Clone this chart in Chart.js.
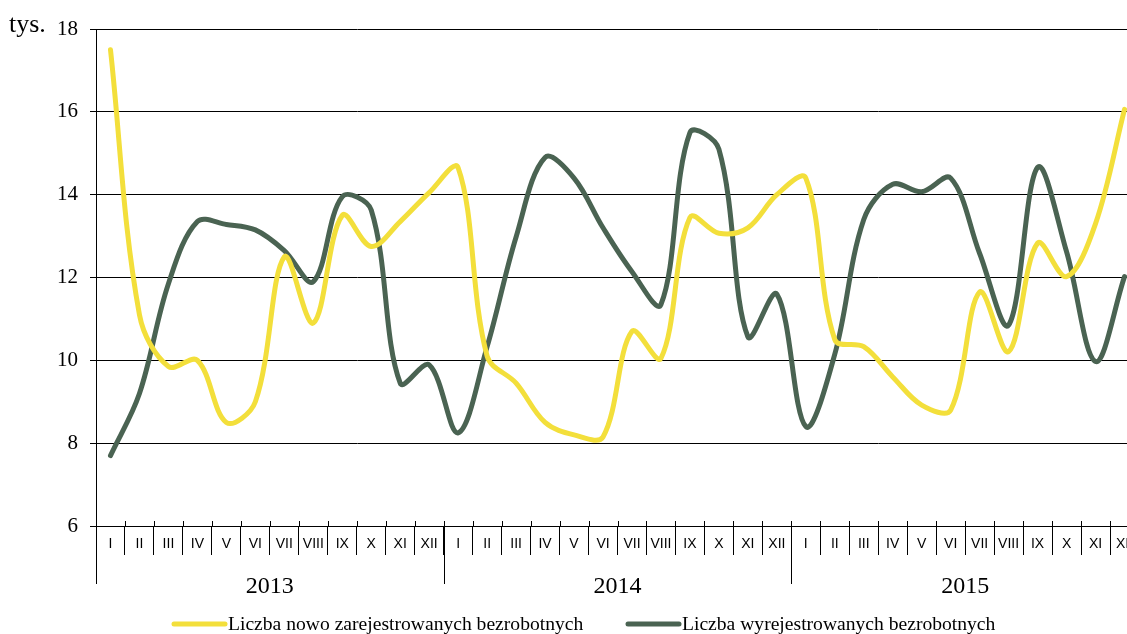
<!DOCTYPE html>
<html>
<head>
<meta charset="utf-8">
<script src="https://cdn.jsdelivr.net/npm/chart.js@4"></script>
<style>
  html, body { margin: 0; padding: 0; background: #fff; overflow: hidden; }
  #wrap { width: 1139px; height: 634px; }
</style>
</head>
<body>
<div id="wrap"><canvas id="chart" width="1139" height="634"></canvas></div>
<script>
// months of 2013-2015
const MONTHS = ['I', 'II', 'III', 'IV', 'V', 'VI', 'VII', 'VIII', 'IX', 'X', 'XI', 'XII'];
const YEARS = ['2013', '2014', '2015'];
const labels = [].concat(MONTHS, MONTHS, MONTHS);

// thousands of people
const nowoZarejestrowani = [
  17.5, 11.1, 9.85, 10.0, 8.5, 9.0, 12.5, 10.9, 13.5, 12.75, 13.35, 14.05,
  14.65, 10.1, 9.45, 8.5, 8.2, 8.15, 10.7, 10.05, 13.45, 13.07, 13.2, 14.0,
  14.4, 10.5, 10.33, 9.6, 8.92, 8.8, 11.65, 10.21, 12.83, 12.02, 13.3, 16.06
];
const wyrejestrowani = [
  7.7, 9.2, 11.85, 13.35, 13.28, 13.15, 12.65, 11.9, 13.95, 13.63, 9.45, 9.89,
  8.25, 10.33, 12.98, 14.9, 14.4, 13.2, 12.14, 11.35, 15.5, 15.1, 10.57, 11.6,
  8.4, 10.15, 13.4, 14.25, 14.07, 14.4, 12.58, 10.85, 14.66, 12.62, 9.97, 12.02
];

const YELLOW = '#f3df3b';
const GREEN = '#4a6352';
const SERIF = '"Liberation Serif", "DejaVu Serif", serif';
const SANS = '"Liberation Sans", Arial, sans-serif';

const extras = {
  id: 'extras',
  afterDraw(chart) {
    const { ctx, chartArea } = chart;
    const bottom = chartArea.bottom;
    const w = (chartArea.right - chartArea.left) / labels.length;
    ctx.save();
    ctx.strokeStyle = '#000';
    ctx.lineWidth = 1;
    // small tick stubs above the axis
    for (let i = 0; i <= labels.length; i++) {
      const px = Math.round(chartArea.left + i * w) + 0.5;
      ctx.beginPath();
      ctx.moveTo(px, bottom - 5);
      ctx.lineTo(px, bottom);
      ctx.stroke();
    }
    // year separators and labels
    YEARS.forEach((yr, k) => {
      const px = Math.round(chartArea.left + k * 12 * w) + 0.5;
      ctx.beginPath();
      ctx.moveTo(px, bottom);
      ctx.lineTo(px, bottom + 58);
      ctx.stroke();
      ctx.fillStyle = '#000';
      ctx.font = '24px ' + SERIF;
      ctx.textAlign = 'center';
      ctx.textBaseline = 'middle';
      ctx.fillText(yr, chartArea.left + (k * 12 + 6) * w, bottom + 61);
    });
    // unit
    ctx.font = '26px ' + SERIF;
    ctx.textAlign = 'left';
    ctx.textBaseline = 'alphabetic';
    ctx.fillText('tys.', 9, 32);
    // legend
    const items = [
      { c: YELLOW, t: chart.data.datasets[0].label, x: 172 },
      { c: GREEN, t: chart.data.datasets[1].label, x: 626 }
    ];
    ctx.font = '19.6px ' + SERIF;
    ctx.textBaseline = 'middle';
    items.forEach(it => {
      ctx.strokeStyle = it.c;
      ctx.lineWidth = 5;
      ctx.lineCap = 'round';
      ctx.beginPath();
      ctx.moveTo(it.x + 2, 624);
      ctx.lineTo(it.x + 53, 624);
      ctx.stroke();
      ctx.fillText(it.t, it.x + 56, 625);
    });
    ctx.restore();
  }
};

new Chart(document.getElementById('chart'), {
  type: 'line',
  data: {
    labels: labels,
    datasets: [
      {
        label: 'Liczba nowo zarejestrowanych bezrobotnych',
        data: nowoZarejestrowani,
        borderColor: YELLOW,
        borderWidth: 5,
        pointRadius: 0,
        tension: 0.35,
        borderCapStyle: 'round',
        borderJoinStyle: 'round',
        fill: false
      },
      {
        label: 'Liczba wyrejestrowanych bezrobotnych',
        data: wyrejestrowani,
        borderColor: GREEN,
        borderWidth: 5,
        pointRadius: 0,
        tension: 0.35,
        borderCapStyle: 'round',
        borderJoinStyle: 'round',
        fill: false
      }
    ]
  },
  plugins: [extras],
  options: {
    responsive: false,
    animation: false,
    devicePixelRatio: 1,
    layout: { padding: { top: 29, left: 0, right: 0, bottom: 0 } },
    plugins: {
      legend: { display: false },
      tooltip: { enabled: false }
    },
    scales: {
      x: {
        offset: true,
        grid: {
          offset: true,
          drawOnChartArea: false,
          drawTicks: true,
          tickLength: 29,
          color: '#000'
        },
        border: { display: true, color: '#000' },
        ticks: {
          color: '#000',
          padding: -19,
          autoSkip: false,
          maxRotation: 0,
          font: { family: SANS, size: 14 }
        },
        afterFit(scale) { scale.height = 108; }
      },
      y: {
        min: 6,
        max: 18,
        grid: { color: '#000', tickLength: 6 },
        border: { display: true, color: '#000' },
        ticks: {
          stepSize: 2,
          color: '#000',
          padding: 12,
          font: { family: SERIF, size: 21 }
        },
        afterFit(scale) { scale.width = 96; }
      }
    }
  }
});
</script>
</body>
</html>
